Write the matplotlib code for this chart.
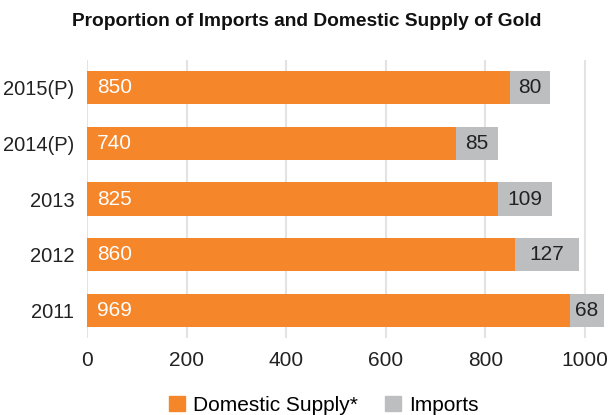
import matplotlib
matplotlib.use("Agg")
import matplotlib.pyplot as plt
from matplotlib.patches import Patch

years = ["2011", "2012", "2013", "2014(P)", "2015(P)"]
domestic = [969, 860, 825, 740, 850]
imports = [68, 127, 109, 85, 80]
xticks = [0, 200, 400, 600, 800, 1000]

plt.rcParams['font.family'] = ['Liberation Sans', 'DejaVu Sans']
orange = "#F5862A"
gray = "#BDBEC0"

fig = plt.figure(figsize=(6.13, 4.15), dpi=100)
ax = fig.add_axes([87/613, 1 - 338/415, (605 - 87)/613, (338 - 60)/415])

y = list(range(len(years)))
ax.barh(y, domestic, height=0.6, color=orange, zorder=2)
ax.barh(y, imports, left=domestic, height=0.6, color=gray, zorder=2)

for i in y:
    ax.text(20, i, str(domestic[i]), color="white", va="center", ha="left", fontsize=15, zorder=3)
    ax.text(domestic[i] + imports[i] / 2, i, str(imports[i]), color="#222222", va="center", ha="center", fontsize=15, zorder=3)

ax.set_xlim(0, 1040)
ax.set_ylim(-0.5, 4.5)
ax.set_yticks(y)
ax.set_yticklabels(years, fontsize=14.5, color="#222222")
ax.set_xticks(xticks)
ax.set_xticklabels([str(t) for t in xticks], fontsize=15, color="#222222")
ax.tick_params(length=0, pad=9)
ax.tick_params(axis='y', pad=9)
for s in ax.spines.values():
    s.set_visible(False)
ax.grid(axis='x', color="#E3E3E3", linewidth=1.5, zorder=0)

fig.text(0.5, 1 - 22/415, "Proportion of Imports and Domestic Supply of Gold", ha="center", va="center",
         fontsize=13.8, fontweight="bold", color="#111111")

handles = [Patch(color=orange, label="Domestic Supply*"), Patch(color=gray, label="Imports")]
fig.legend(handles=handles, loc="center", bbox_to_anchor=(0.528, 1 - 405/415), ncol=2, frameon=False,
           fontsize=15, handlelength=0.75, handleheight=0.75, handletextpad=0.4, columnspacing=1.3)

fig.savefig("out.png", dpi=100)
